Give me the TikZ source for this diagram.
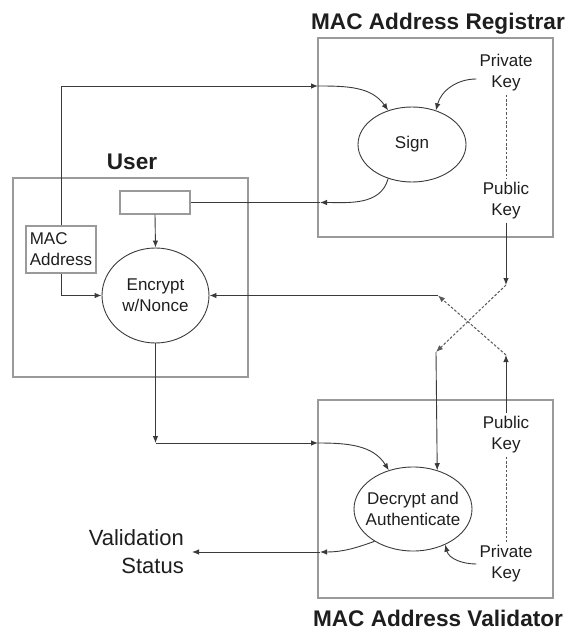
\documentclass[tikz,border=0pt]{standalone}
\usepackage{fontspec}
\setmainfont{Liberation Sans}
\usetikzlibrary{arrows.meta,shapes.geometric}
\definecolor{boxgray}{HTML}{9A9A9A}
\definecolor{linegray}{HTML}{3A3A3A}
\definecolor{inkgray}{HTML}{1E1E1E}

\begin{document}
\begin{tikzpicture}[x=1pt,y=-1pt,
  lbl/.style={font=\fontsize{17}{21}\selectfont, text=inkgray, align=center, inner sep=3pt},
  frame/.style={draw=boxgray, line width=1.6pt, minimum width=235pt, minimum height=199pt, inner sep=0pt},
  title/.style={font=\bfseries\fontsize{22.6}{26}\selectfont, text=inkgray, inner sep=0pt, anchor=base},
  proc/.style={lbl, ellipse, draw=linegray, line width=0.9pt, inner sep=-8pt},
  slotbox/.style={draw=boxgray, line width=1.2pt, inner sep=0pt},
  flow/.style={draw=linegray, line width=0.9pt, -{Latex[length=7pt,width=5.5pt]}},
  plain/.style={draw=linegray, line width=0.9pt},
  keylink/.style={draw=linegray!85, line width=1pt, dash pattern=on 2.6pt off 1.8pt}
]
\useasboundingbox (0,0) rectangle (574,631);

% enclosing frames and their titles
\node[frame] (reg) at (435.5,137.5) {};
\node[frame, minimum height=198pt] (val) at (435.5,499) {};
\node[frame] (usr) at (130.5,277.5) {};
\node[title] (regt) at (438,30) {MAC Address Registrar};
\node[title] (valt) at (438,626) {MAC Address Validator};
\node[title] (usrt) at (132,169) {User};

% registrar
\node[proc, minimum width=108pt, minimum height=75pt] (sign) at (412,144.5) {Sign};
\node[lbl] (rpriv) at (506,73) {Private\\Key};
\node[lbl] (rpub) at (506,201) {Public\\Key};

% user
\node[slotbox, minimum width=70pt, minimum height=23pt] (slot) at (155,202.5) {};
\node[lbl, slotbox, align=left, inner sep=2pt, minimum width=70pt, minimum height=47pt] (mac) at (61,249.5) {MAC\\Address};
\node[proc, minimum width=107pt, minimum height=95pt] (enc) at (155.5,295.5) {Encrypt\\w/Nonce};

% validator
\node[proc, minimum width=118pt, minimum height=84pt] (dec) at (413,509) {Decrypt and\\Authenticate};
\node[lbl] (vpub) at (506,435) {Public\\Key};
\node[lbl] (vpriv) at (506,564) {Private\\Key};
\node[lbl, font=\fontsize{22}{28}\selectfont, align=right, anchor=east, inner xsep=8pt] (status) at (192,552) {Validation\\Status};

% bend points of the connectors
\coordinate (regin) at (318,86);
\coordinate (regout) at (320,202.5);
\coordinate (pkdown) at (506,285);
\coordinate (pkleft) at (436,352);
\coordinate (vkup) at (506,355);
\coordinate (vkleft) at (438,295.5);
\coordinate (encdrop) at (155.5,443);
\coordinate (valin) at (318,443);
\coordinate (valout) at (320,552);

% registration
\draw[flow] (mac.north) |- (regin);
\draw[flow] (regin) to[out=0,in=125] (sign.125);
\draw[flow] ([yshift=-6pt]rpriv.west) to[out=180,in=75] (sign.55);
\draw[flow] (sign.235) to[out=255,in=0] (regout);
\draw[plain] (regout) -- (slot.east);
\draw[keylink] (rpriv.south) -- (rpub.north);

% encryption at the user
\draw[flow] (slot.south) -- (enc.north);
\draw[flow] (mac.south) |- (enc.west);

% key exchange
\draw[flow] (rpub.south) -- (pkdown);
\draw[flow, keylink] (pkdown) -- (pkleft);
\draw[flow] (pkleft) -- (dec.58.7);
\draw[flow] (vpub.north) -- (vkup);
\draw[flow, keylink] (vkup) -- (vkleft);
\draw[flow] (vkleft) -- (enc.east);

% validation
\draw[flow] (enc.south) -- (encdrop);
\draw[flow] (encdrop) -- (valin);
\draw[flow] (valin) to[out=0,in=122] (dec.122);
\draw[flow] (dec.220) to[out=200,in=0] (valout);
\draw[flow] (valout) -- (status.east);
\draw[flow] (vpriv.west) to[out=180,in=-75] (dec.-48);
\draw[keylink] (vpub.south) -- (vpriv.north);
\end{tikzpicture}
\end{document}
